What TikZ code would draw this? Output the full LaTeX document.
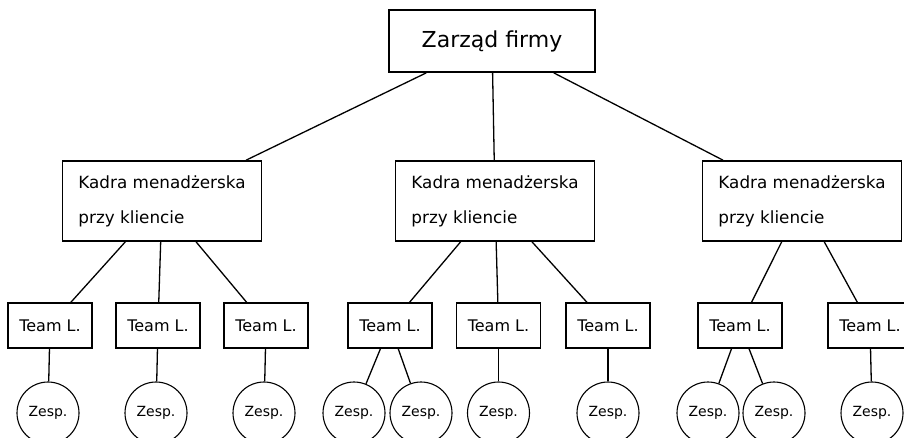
\documentclass[tikz,border=0pt]{standalone}
\usepackage{fontspec}
\setmainfont{DejaVu Sans}

\begin{document}
\begin{tikzpicture}[x=1pt,y=1pt,
	level 1/.style={level distance=160pt, sibling distance=320pt},
	level 2/.style={level distance=124.5pt, sibling distance=108pt},
	level 3/.style={level distance=87.5pt, sibling distance=66pt},
	edge from parent/.style={draw, line width=1.3pt},
	zarzad/.style={draw, line width=1.7pt, minimum width=206pt, minimum height=62pt, font=\fontsize{22}{26}\selectfont},
	kadra/.style={draw, line width=1.7pt, minimum width=199pt, minimum height=80pt, align=left, font=\fontsize{16.8}{35}\selectfont},
	team/.style={draw, line width=1.1pt, minimum width=84pt, minimum height=45pt, font=\fontsize{16}{19}\selectfont},
	zesp/.style={circle, draw, line width=1.1pt, minimum size=62pt, inner sep=0pt, font=\fontsize{14}{16}\selectfont}]
\clip (0,0) rectangle (904,-437);
\node [zarzad] (z) at (492,-41) {Zarząd firmy}
	child [xshift=-10pt] {node [kadra] (k1) {Kadra menadżerska\\przy kliencie}
		child [xshift=-4pt] {node [team] (t1) {Team L.}
			child [xshift=-2pt] {node [zesp] (z1) {Zesp.}}
		}
		child [xshift=-4pt] {node [team] (t2) {Team L.}
			child [xshift=-2pt] {node [zesp] (z2) {Zesp.}}
		}
		child [xshift=-4pt] {node [team] (t3) {Team L.}
			child [xshift=-2pt] {node [zesp] (z3) {Zesp.}}
		}
	}
	child [xshift=3pt] {node [kadra] (k2) {Kadra menadżerska\\przy kliencie}
		child [xshift=3pt] {node [team] (t4) {Team L.}
			child [xshift=-3pt] {node [zesp] (z4) {Zesp.}}
			child [xshift=-2pt] {node [zesp] (z5) {Zesp.}}
		}
		child [xshift=3.5pt] {node [team] (t5) {Team L.}
			child {node [zesp] (z6) {Zesp.}}
		}
		child [xshift=5pt] {node [team] (t6) {Team L.}
			child {node [zesp] (z7) {Zesp.}}
		}
	}
	child [xshift=-10pt] {node [kadra] (k3) {Kadra menadżerska\\przy kliencie}
		child [xshift=-8pt] {node [team] (t7) {Team L.}
			child [xshift=1pt] {node [zesp] (z8) {Zesp.}}
			child [xshift=1pt] {node [zesp] (z9) {Zesp.}}
		}
		child [xshift=14pt] {node [team] (t8) {Team L.}
			child [xshift=2pt] {node [zesp] (z10) {Zesp.}}
		}
	}
;
\end{tikzpicture}
\end{document}
